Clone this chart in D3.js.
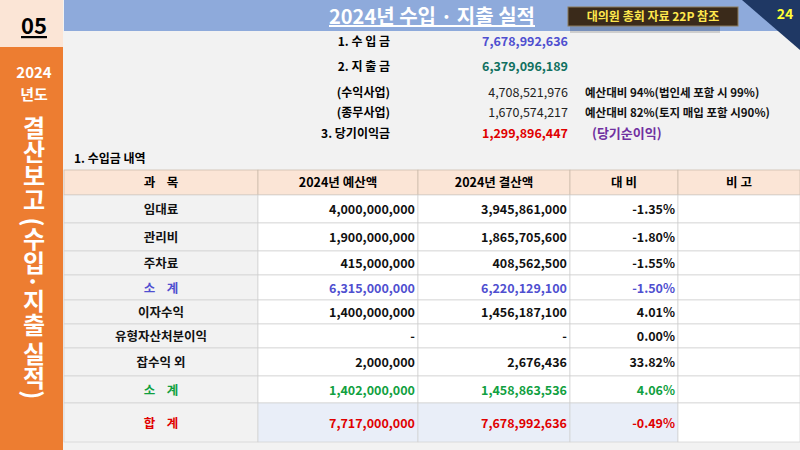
<!DOCTYPE html>
<html><head><meta charset="utf-8">
<script src="https://cdn.jsdelivr.net/npm/d3@7"></script>
<style>body{margin:0}svg{display:block;font-family:"Noto Sans CJK KR",sans-serif}</style>
</head><body><div id="slide"></div>
<script>
'use strict'

const summaryLabels = ['1. 수 입 금', '2. 지 출 금', '(수익사업)', '(종무사업)', '3. 당기이익금']
const summaryValues = ['7,678,992,636', '6,379,096,189', '4,708,521,976', '1,670,574,217', '1,299,896,447']
const summaryNotes  = ['', '', '예산대비 94%(법인세 포함 시 99%)', '예산대비 82%(토지 매입 포함 시90%)', '(당기순이익)']
const headers   = ['과    목', '2024년 예산액', '2024년 결산액', '대 비', '비 고']
const items     = ['임대료', '관리비', '주차료', '소    계', '이자수익', '유형자산처분이익', '잡수익 외', '소    계', '합    계']
const budget    = ['4,000,000,000', '1,900,000,000', '415,000,000', '6,315,000,000', '1,400,000,000', '-', '2,000,000', '1,402,000,000', '7,717,000,000']
const actual    = ['3,945,861,000', '1,865,705,600', '408,562,500', '6,220,129,100', '1,456,187,100', '-', '2,676,436', '1,458,863,536', '7,678,992,636']
const ratio     = ['-1.35%', '-1.80%', '-1.55%', '-1.50%', '4.01%', '0.00%', '33.82%', '4.06%', '-0.49%']
const rowKind   = ['n', 'n', 'n', 'sub1', 'n', 'n', 'n', 'sub2', 'total']

const colors = { n: '#111', sub1: '#4f4fd0', sub2: '#10a040', total: '#e00000' }
const svg = d3.select('#slide').append('svg').attr('width', 800).attr('height', 450)

svg.append('rect').attr('width', 800).attr('height', 450).attr('fill', '#f2f2f2')
// sidebar
svg.append('rect').attr('width', 63).attr('height', 47).attr('fill', '#fbe5d6')
svg.append('rect').attr('y', 47).attr('width', 63).attr('height', 403).attr('fill', '#ed7d31')
svg.append('text').attr('x', 34).attr('y', 34).attr('text-anchor', 'middle').attr('font-size', 22)
   .attr('font-weight', 700).attr('text-decoration', 'underline').text('05')
svg.append('text').attr('x', 34).attr('y', 78).attr('text-anchor', 'middle').attr('font-size', 15)
   .attr('font-weight', 700).attr('fill', '#fff').text('2024')
svg.append('text').attr('x', 34).attr('y', 100).attr('text-anchor', 'middle').attr('font-size', 15)
   .attr('font-weight', 700).attr('fill', '#fff').text('년도')
svg.append('text').attr('x', 34).attr('y', 116).attr('font-size', 24).attr('font-weight', 700)
   .attr('fill', '#fff').style('writing-mode', 'vertical-rl').style('text-orientation', 'mixed')
   .text('결산보고 (수입·지출 실적)')

// header bar
svg.append('rect').attr('x', 64).attr('width', 736).attr('height', 31).attr('fill', '#8eaadb')
svg.append('path').attr('d', 'M742,0 L800,0 L800,50 Z').attr('fill', '#1f3864')
svg.append('text').attr('x', 785).attr('y', 19).attr('text-anchor', 'middle').attr('font-size', 14)
   .attr('font-weight', 700).attr('fill', '#ffff33').text('24')
svg.append('text').attr('x', 432).attr('y', 24).attr('text-anchor', 'middle').attr('font-size', 20)
   .attr('font-weight', 700).attr('fill', '#fff').attr('text-decoration', 'underline').text('2024년 수입 · 지출 실적')
svg.append('rect').attr('x', 570).attr('y', 15).attr('width', 150).attr('height', 18).attr('fill', '#000').attr('opacity', 0.15)
svg.append('rect').attr('x', 568).attr('y', 7).attr('width', 170).attr('height', 19).attr('fill', '#3a2a1a').attr('stroke', '#8b7b5b')
svg.append('text').attr('x', 653).attr('y', 21).attr('text-anchor', 'middle').attr('font-size', 12)
   .attr('font-weight', 700).attr('fill', '#ffe84d').text('대의원 총회 자료 22P 참조')

// summary
const sy = d3.scaleOrdinal().domain(summaryLabels).range([46, 71, 97, 117, 138])
const valColor = ['#4f4fd0', '#107060', '#222', '#222', '#e00000']
summaryLabels.forEach((l, i) => {
  const y = sy(l)
  svg.append('text').attr('x', 390).attr('y', y).attr('text-anchor', 'end').attr('font-size', 12)
     .attr('font-weight', 700).text(l)
  svg.append('text').attr('x', 568).attr('y', y).attr('text-anchor', 'end').attr('font-size', 12.5)
     .attr('font-weight', i < 2 || i === 4 ? 700 : 400).attr('fill', valColor[i]).text(summaryValues[i])
  svg.append('text').attr('x', i === 4 ? 592 : 585).attr('y', y).attr('font-size', i === 4 ? 13 : 11.5)
     .attr('font-weight', 700).attr('fill', i === 4 ? '#7030a0' : '#111').text(summaryNotes[i])
})
svg.append('text').attr('x', 74).attr('y', 163).attr('font-size', 12).attr('font-weight', 700).text('1. 수입금 내역')

// table
const colEdges = [64, 258, 418, 570, 678, 800]
const rowEdges = [170, 195, 223, 251, 275, 300, 324, 348, 376, 403, 442]
const g = svg.append('g')
headers.forEach((h, c) => {
  g.append('rect').attr('x', colEdges[c]).attr('y', rowEdges[0]).attr('width', colEdges[c + 1] - colEdges[c])
   .attr('height', rowEdges[1] - rowEdges[0]).attr('fill', '#fbe5d6').attr('stroke', '#c9b8a8').attr('stroke-width', 0.7)
  g.append('text').attr('x', (colEdges[c] + colEdges[c + 1]) / 2).attr('y', rowEdges[0] + 17)
   .attr('text-anchor', 'middle').attr('font-size', 12.5).attr('font-weight', 700).attr('xml:space', 'preserve').text(h)
})
items.forEach((it, r) => {
  const y0 = rowEdges[r + 1], y1 = rowEdges[r + 2], ym = (y0 + y1) / 2 + 5
  const k = rowKind[r]
  for (let c = 0; c < 5; c++) {
    g.append('rect').attr('x', colEdges[c]).attr('y', y0).attr('width', colEdges[c + 1] - colEdges[c])
     .attr('height', y1 - y0)
     .attr('fill', k === 'total' && c > 0 && c < 4 ? '#e9eef8' : c === 0 ? '#f2f2f2' : '#fff')
     .attr('stroke', '#d0d0d0').attr('stroke-width', 0.7)
  }
  const col = colors[k]
  g.append('text').attr('x', (colEdges[0] + colEdges[1]) / 2).attr('y', ym).attr('text-anchor', 'middle')
   .attr('font-size', 12.5).attr('font-weight', 700).attr('fill', col).attr('xml:space', 'preserve').text(it)
  ;[budget, actual, ratio].forEach((arr, j) => {
    g.append('text').attr('x', colEdges[j + 2] - 3).attr('y', ym).attr('text-anchor', 'end')
     .attr('font-size', 12.5).attr('font-weight', 700).attr('fill', col).text(arr[r])
  })
})
</script></body></html>
